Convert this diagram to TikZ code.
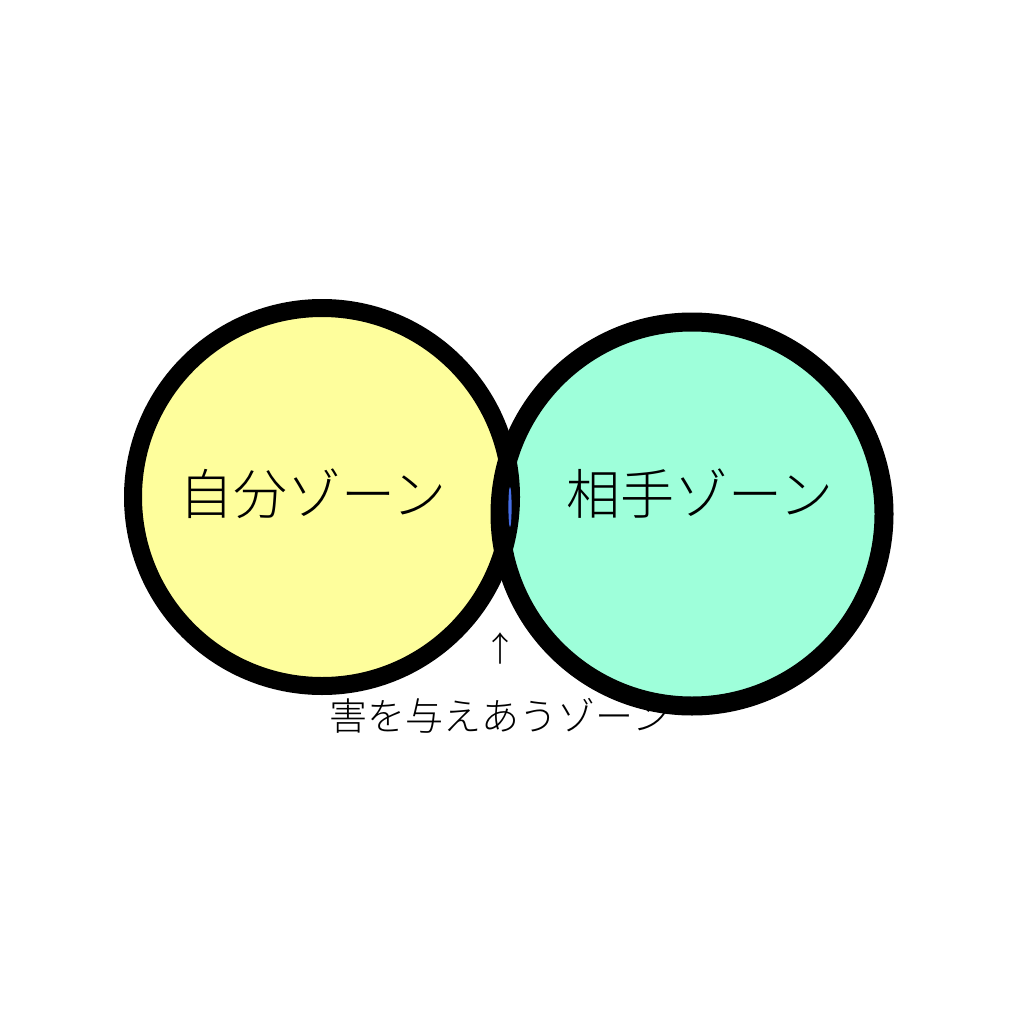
\documentclass[tikz,border=0pt]{standalone}
\usepackage{fontspec}
\newfontfamily\jp[UprightFont={* Light}]{Noto Sans CJK JP}
\definecolor{zoneA}{RGB}{254,254,156}
\definecolor{zoneB}{RGB}{158,255,218}
\definecolor{sliver}{RGB}{70,110,230}
\tikzset{
  ring/.style={draw=black, line width=18pt},
  bigtxt/.style={font=\jp\fontsize{54}{60}\selectfont, anchor=base, inner sep=0pt},
  smalltxt/.style={font=\jp\fontsize{38}{44}\selectfont, anchor=base, inner sep=0pt},
}
\begin{document}
\begin{tikzpicture}[x=1pt,y=-1pt]
\useasboundingbox (0,0) rectangle (1024,1024);
\fill[white] (0,0) rectangle (1024,1024);
\fill[zoneA] (322,497) circle (189);
\fill[zoneB] (692,514) circle (192);
\draw[ring] (322,497) circle (189);
\draw[ring, line width=19pt] (692,514) circle (192);
\fill[sliver] (510,507) ellipse (1.6 and 20);
\node[bigtxt] (own) at (313,514) {自分ゾーン};
\node[bigtxt] (opp) at (700,514) {相手ゾーン};
\node[font=\jp\fontsize{34}{40}\selectfont, inner sep=0pt] (arr) at (500,648) {↑};
\node[smalltxt] (lbl) at (500,730) {害を与えあうゾーン};
\end{tikzpicture}
\end{document}
